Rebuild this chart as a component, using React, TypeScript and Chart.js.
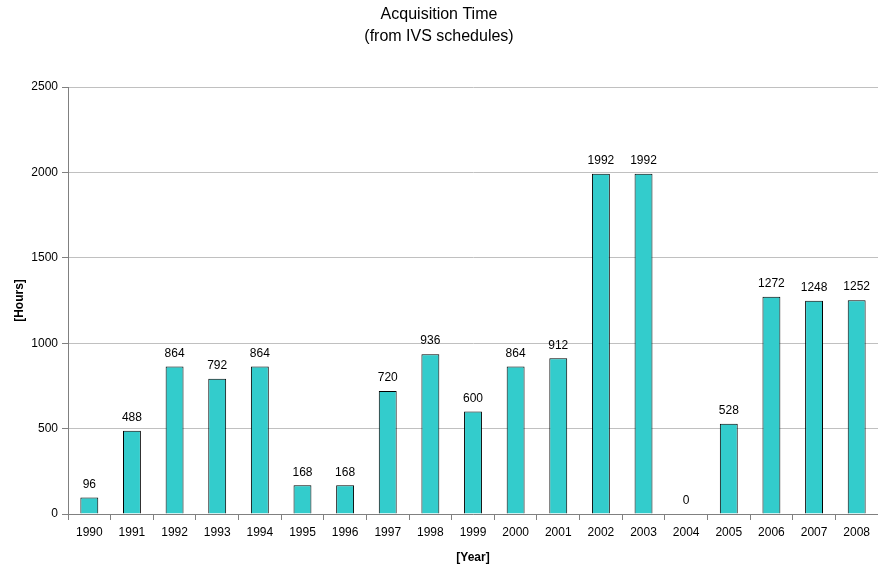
import React, { useEffect, useRef } from "react";
import { Chart, registerables } from "chart.js";

Chart.register(...registerables);

const years = ["1990","1991","1992","1993","1994","1995","1996","1997","1998","1999","2000","2001","2002","2003","2004","2005","2006","2007","2008"];
const hours = [96, 488, 864, 792, 864, 168, 168, 720, 936, 600, 864, 912, 1992, 1992, 0, 528, 1272, 1248, 1252];
const titleLines = ["Acquisition Time", "(from IVS schedules)"];
const FONT = "'Liberation Sans', Arial, sans-serif";

const labelPlugin = {
  id: "barLabels",
  afterDatasetsDraw(chart: any) {
    const ctx = chart.ctx;
    const meta = chart.getDatasetMeta(0);
    ctx.save();
    ctx.font = `12px ${FONT}`;
    ctx.fillStyle = "#000";
    ctx.textAlign = "center";
    ctx.textBaseline = "bottom";
    meta.data.forEach((el: any, i: number) => {
      ctx.fillText(String(hours[i]), el.x, el.y - 7);
    });
    ctx.restore();
  },
};

export default function App() {
  const ref = useRef<HTMLCanvasElement>(null);
  useEffect(() => {
    document.body.style.margin = "0";
    const chart = new Chart(ref.current!, {
      type: "bar",
      data: {
        labels: years,
        datasets: [
          {
            data: hours,
            backgroundColor: "#33CCCC",
            borderColor: "#000",
            borderWidth: 1,
            categoryPercentage: 1,
            barPercentage: 0.42,
          },
        ],
      },
      plugins: [labelPlugin],
      options: {
        animation: false,
        responsive: false,
        maintainAspectRatio: false,
        layout: { padding: { left: 0, right: 0, top: 0, bottom: 0 } },
        plugins: {
          legend: { display: false },
          tooltip: { enabled: false },
          title: {
            display: true,
            text: titleLines,
            color: "#000",
            font: { family: FONT, size: 16, weight: "normal", lineHeight: 1.375 },
            padding: { top: 4, bottom: 39 },
          },
        },
        scales: {
          x: {
            grid: {
              offset: true,
              drawOnChartArea: false,
              drawTicks: true,
              tickLength: 6,
              color: "#808080",
            },
            border: { color: "#808080", width: 1 },
            ticks: {
              color: "#000",
              font: { family: FONT, size: 12 },
              padding: 5,
              maxRotation: 0,
              autoSkip: false,
            },
            title: {
              display: true,
              text: "[Year]",
              color: "#000",
              font: { family: FONT, size: 12, weight: "bold" },
              padding: { top: 1, bottom: 0 },
            },
            afterFit(scale: any) {
              scale.height = 51;
            },
          },
          y: {
            min: 0,
            max: 2500,
            ticks: {
              stepSize: 500,
              color: "#000",
              font: { family: FONT, size: 12 },
              padding: 4,
              callback: (v: any) => String(v),
            },
            grid: {
              color: "#c0c0c0",
              tickColor: "#808080",
              tickLength: 6,
            },
            border: { color: "#808080", width: 1 },
            title: {
              display: true,
              text: "[Hours]",
              color: "#000",
              font: { family: FONT, size: 12, weight: "bold" },
              padding: { top: 12, bottom: 0 },
            },
            afterFit(scale: any) {
              scale.width = 68;
            },
          },
        },
      },
    });
    return () => chart.destroy();
  }, []);
  return (
    <div style={{ width: 878, height: 565 }}>
      <canvas ref={ref} width={878} height={565} style={{ width: 878, height: 565 }} />
    </div>
  );
}
